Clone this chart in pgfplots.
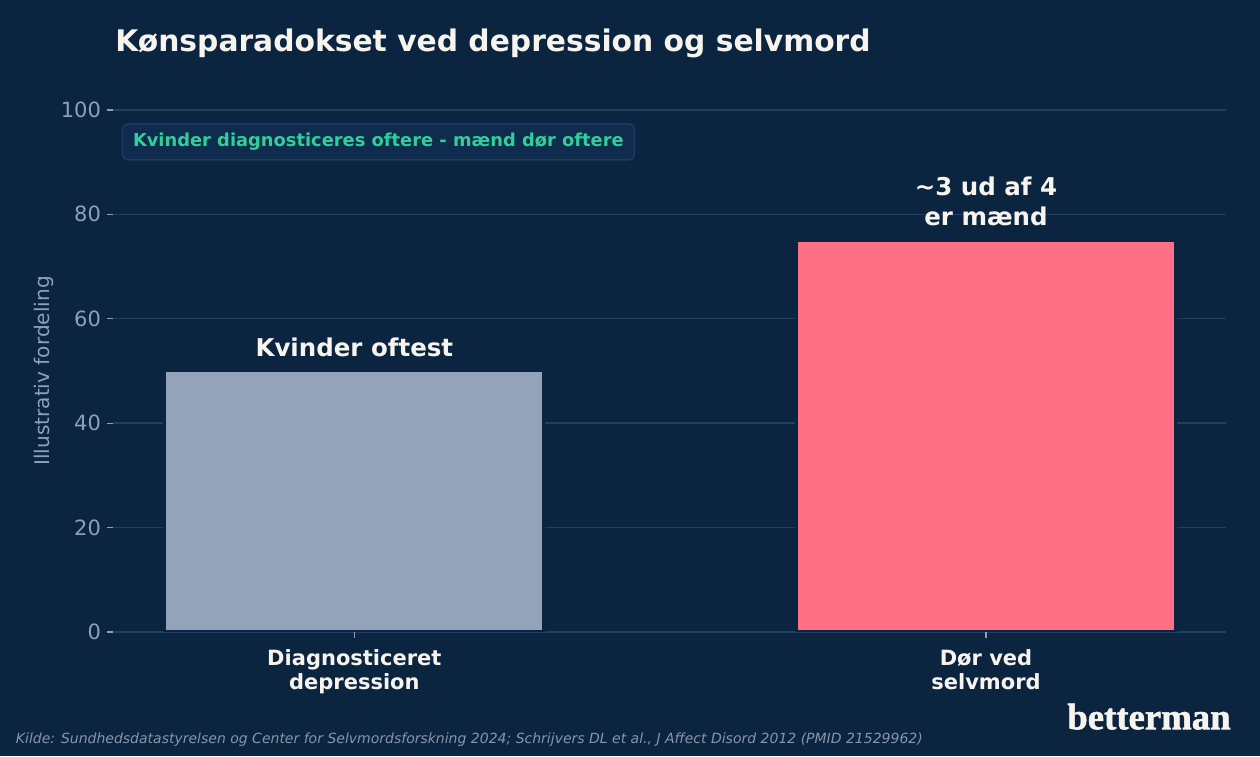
\documentclass[border=0pt]{standalone}
\usepackage{fontspec}
\setmainfont{DejaVu Sans}
\newfontfamily\logofont[BoldFeatures={FakeBold=1.5}]{Liberation Serif}
\usepackage{pgfplots}
\pgfplotsset{compat=1.18}
\definecolor{bg}{HTML}{0B2540}
\definecolor{gridc}{HTML}{1E3F66}
\definecolor{barA}{HTML}{94A3BA}
\definecolor{barB}{HTML}{FF7086}
\definecolor{cream}{HTML}{F7F4EE}
\definecolor{tickgray}{HTML}{8EA0B8}
\definecolor{footgray}{HTML}{8895A8}
\definecolor{green}{HTML}{31CF98}
\definecolor{boxfill}{HTML}{0F2C4E}
\definecolor{boxline}{HTML}{1D3C62}
\begin{document}
\begin{tikzpicture}
\fill[bg] (0,0) rectangle (720pt,432pt);
\begin{axis}[
  at={(64.6pt,70.9pt)}, anchor=south west,
  scale only axis, width=636pt, height=298.3pt,
  xmin=-0.382, xmax=1.38, ymin=0, ymax=100,
  axis line style={draw=none},
  xtick={0,1},
  xticklabels={{Diagnosticeret\\depression},{Dør ved\\selvmord}},
  ytick={0,20,40,60,80,100},
  tick align=outside, xtick pos=bottom, ytick pos=left,
  major tick length=3.4pt,
  tick style={draw=tickgray, line width=0.7pt},
  ymajorgrids, grid style={draw=gridc, line width=0.8pt},
  x tick label style={align=center, font=\bfseries\fontsize{12}{13.8}\selectfont, text=cream, yshift=-3pt},
  y tick label style={font=\fontsize{12}{14}\selectfont, text=tickgray},
  /pgf/number format/assume math mode=true,
  ylabel={Illustrativ fordeling},
  ylabel style={at={(axis description cs:-0.0624,0.5)}, anchor=center, font=\fontsize{11.5}{13}\selectfont, text=tickgray},
]
\addplot[ybar, bar width=0.6, bar shift=0pt, fill=barA, draw=bg, line width=1.7pt] coordinates {(0,50)};
\addplot[ybar, bar width=0.6, bar shift=0pt, fill=barB, draw=bg, line width=1.7pt] coordinates {(1,75)};
\node[anchor=base, text=cream, font=\bfseries\fontsize{14}{16.8}\selectfont, inner sep=0pt, yshift=8.2pt] at (axis cs:0,50) {Kvinder oftest};
\node[anchor=base, text=cream, font=\bfseries\fontsize{14}{16.8}\selectfont, inner sep=0pt, yshift=8.5pt] at (axis cs:1,75) {er mænd};
\node[anchor=base, text=cream, font=\bfseries\fontsize{14}{16.8}\selectfont, inner sep=0pt, yshift=25.6pt] at (axis cs:1,75) {\textasciitilde 3 ud af 4};
\end{axis}
\node[anchor=base west, text=cream, font=\bfseries\fontsize{17}{20.4}\selectfont, inner sep=0pt] at (65.7pt,402.5pt) {Kønsparadokset ved depression og selvmord};
\node[anchor=west, draw=boxline, fill=boxfill, rounded corners=3pt, line width=0.8pt, minimum width=292.6pt, minimum height=20.6pt, inner sep=0pt, text=green, font=\bfseries\fontsize{10.2}{12}\selectfont] at (69.5pt,350.9pt) {Kvinder diagnosticeres oftere - mænd dør oftere};
\node[anchor=base west, text=footgray, font=\itshape\fontsize{8}{9.6}\selectfont, inner sep=0pt] at (8.9pt,7.4pt) {Kilde: Sundhedsdatastyrelsen og Center for Selvmordsforskning 2024; Schrijvers DL et al., J Affect Disord 2012 (PMID 21529962)};
\node[anchor=base east, text=cream, font=\logofont\bfseries\fontsize{21}{25}\selectfont, inner sep=0pt] at (703.4pt,15.3pt) {betterman};
\pgfresetboundingbox
\path[use as bounding box] (0,0) rectangle (720pt,432pt);
\end{tikzpicture}
\end{document}
